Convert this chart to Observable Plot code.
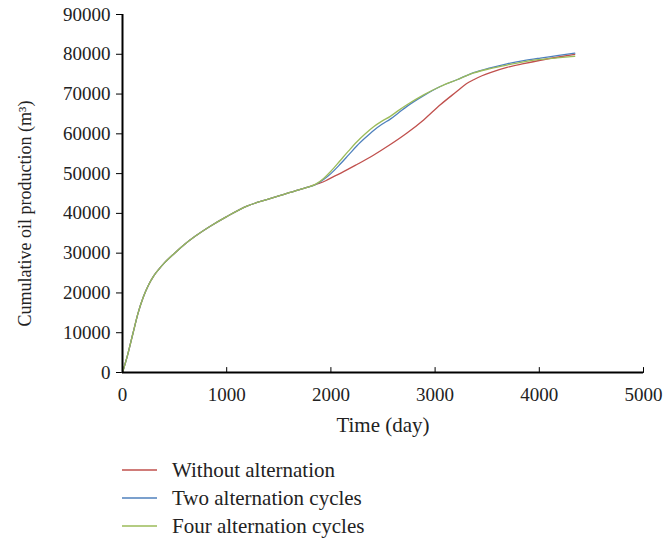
<!DOCTYPE html>
<html>
<head>
<meta charset="utf-8">
<script src="https://cdn.jsdelivr.net/npm/d3@7"></script>
<script src="https://cdn.jsdelivr.net/npm/@observablehq/plot@0.6"></script>
<style>
  body { margin: 0; background: #fff; font-family: "Liberation Serif", serif; }
  #chart svg { display: block; }
  #legend { margin-left: 122px; margin-top: 11px; font-size: 21px; color: #222; }
  .item { display: flex; align-items: center; height: 28px; }
  .item svg { margin-right: 15px; }
</style>
</head>
<body>
<div id="chart"></div>
<div id="legend"></div>
<script>
const seriesNames = ["Without alternation", "Two alternation cycles", "Four alternation cycles"];
const seriesColors = ["#c0504d", "#4f81bd", "#9bbb59"];

// Shared early part (all three curves coincide)
const sharedDays   = [0, 50, 100, 150, 200, 250, 300, 350, 400, 500, 600, 700, 850, 1000, 1200, 1400, 1550, 1700, 1780];
const sharedValues = [0, 4500, 9800, 15000, 19000, 22000, 24300, 26000, 27500, 30000, 32300, 34300, 36900, 39200, 41900, 43600, 44800, 46000, 46600];

// Without alternation
const redDays   = [1870, 1950, 2030, 2100, 2250, 2400, 2570, 2730, 2890, 3050, 3210, 3300, 3370, 3450, 3530, 3690, 3850, 4010, 4170, 4340];
const redValues = [47400, 48200, 49300, 50200, 52300, 54500, 57300, 60200, 63500, 67300, 70700, 72600, 73600, 74600, 75400, 76700, 77650, 78500, 79250, 80000];

// Two alternation cycles
const blueDays   = [1850, 1930, 2000, 2090, 2170, 2250, 2330, 2410, 2490, 2570, 2650, 2730, 2890, 3050, 3210, 3370, 3530, 3690, 3850, 4010, 4170, 4340];
const blueValues = [47200, 48500, 50000, 52400, 54700, 57000, 59000, 60850, 62400, 63700, 65300, 66900, 69600, 71900, 73600, 75400, 76600, 77600, 78400, 79050, 79650, 80300];

// Four alternation cycles
const greenDays   = [1850, 1930, 2000, 2090, 2170, 2250, 2330, 2410, 2490, 2570, 2650, 2730, 2890, 3050, 3210, 3370, 3530, 3690, 3850, 4010, 4170, 4340];
const greenValues = [47300, 48800, 50600, 53300, 55700, 58000, 60000, 61800, 63200, 64400, 65900, 67300, 69800, 71900, 73600, 75300, 76400, 77300, 78100, 78700, 79100, 79500];

const xTicks = [0, 1000, 2000, 3000, 4000, 5000];
const yTicks = [0, 10000, 20000, 30000, 40000, 50000, 60000, 70000, 80000, 90000];
const xTitle = "Time (day)";
const yTitle = "Cumulative oil production (m³)";

const ownDays = [redDays, blueDays, greenDays];
const ownValues = [redValues, blueValues, greenValues];
const rows = [];
seriesNames.forEach((name, i) => {
  sharedDays.forEach((d, j) => rows.push({series: name, day: d, value: sharedValues[j]}));
  ownDays[i].forEach((d, j) => rows.push({series: name, day: d, value: ownValues[i][j]}));
});

const tickShape = {draw(context, l) { context.moveTo(0, 0); context.lineTo(0, -l); }};

const chart = Plot.plot({
  width: 666,
  height: 445,
  marginTop: 14,
  marginRight: 23,
  marginBottom: 73,
  marginLeft: 122,
  style: {fontFamily: "Liberation Serif, serif", fontSize: "19px", color: "#222", background: "#fff"},
  x: {domain: [0, 5000]},
  y: {domain: [0, 90000]},
  color: {domain: seriesNames, range: seriesColors},
  marks: [
    Plot.axisY(yTicks, {tickSize: 6, tickPadding: 6, tickFormat: d => String(d), label: null, stroke: "#000"}),
    Plot.axisX(xTicks, {tickSize: 0, tickPadding: 15, tickFormat: d => String(d), label: null}),
    Plot.text([xTitle], {frameAnchor: "bottom", dy: 59, fontSize: 21, fill: "#222"}),
    Plot.text([yTitle], {frameAnchor: "left", textAnchor: "middle", lineAnchor: "middle", rotate: -90, dx: -97, dy: 20, fontSize: 18, fill: "#222"}),
    Plot.vector(xTicks, {x: d => d, y: 0, length: 5, rotate: 0, anchor: "start", shape: tickShape, stroke: "#000", strokeWidth: 1}),
    Plot.line(rows, {x: "day", y: "value", z: "series", stroke: "series", strokeWidth: 1.3, curve: "monotone-x"}),
    Plot.ruleX([0], {stroke: "#000", strokeWidth: 2}),
    Plot.ruleY([0], {stroke: "#000", strokeWidth: 2})
  ]
});
document.getElementById("chart").appendChild(chart);

const legend = document.getElementById("legend");
seriesNames.forEach((name, i) => {
  const item = document.createElement("div");
  item.className = "item";
  item.innerHTML = `<svg width="35" height="4"><line x1="0" x2="35" y1="2" y2="2" stroke="${seriesColors[i]}" stroke-width="1.5"/></svg><span>${name}</span>`;
  legend.appendChild(item);
});
</script>
</body>
</html>
